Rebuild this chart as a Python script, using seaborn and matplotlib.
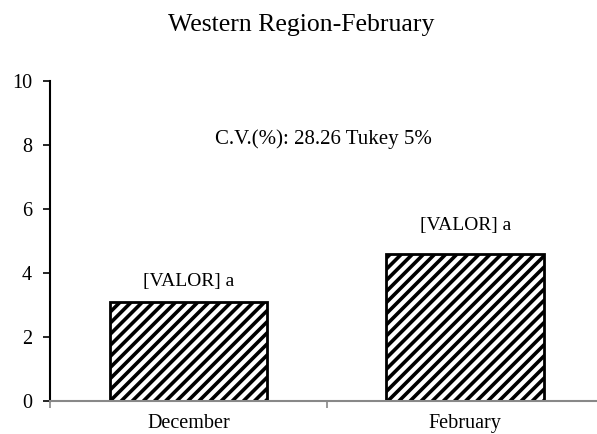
import matplotlib
matplotlib.use("Agg")
import matplotlib.pyplot as plt
import seaborn as sns
import pandas as pd

# Data
months = ["December", "February"]
values = [3.07, 4.57]
bar_labels = ["[VALOR] a", "[VALOR] a"]
title = "Western Region-February"
note = "C.V.(%): 28.26 Tukey 5%"
yticks = [0, 2, 4, 6, 8, 10]

sns.set_style("white")
plt.rcParams["font.family"] = ["Liberation Serif", "DejaVu Serif"]
plt.rcParams["hatch.linewidth"] = 2.6
plt.rcParams["text.color"] = "black"
plt.rcParams["xtick.labelcolor"] = "black"
plt.rcParams["ytick.labelcolor"] = "black"

df = pd.DataFrame({"month": months, "value": values})

fig = plt.figure(figsize=(5.97, 4.34), dpi=100)
ax = fig.add_axes([50 / 597, 33.5 / 434, 547 / 597, 320 / 434])

sns.barplot(data=df, x="month", y="value", color="white", edgecolor="black",
            linewidth=2, width=0.57, ax=ax)
for p in ax.patches:
    p.set_hatch("///")

# label offsets (points) above bar tops, as placed in the original
label_offsets = [15, 21]
for i, (v, lab) in enumerate(zip(values, bar_labels)):
    ax.annotate(lab, xy=(i, v), xytext=(0, label_offsets[i]), textcoords="offset points",
                ha="center", va="center", fontsize=14, color="black")

ax.text(0.5, 0.817, note, transform=ax.transAxes, ha="center", va="center",
        fontsize=15, color="black")

ax.set_xlim(-0.5, 1.476)
ax.set_ylim(0, 10)
ax.set_yticks(yticks)
ax.set_xlabel("")
ax.set_ylabel("")
fig.text(301 / 597, 1 - 25 / 434, title, ha="center", va="center",
         fontsize=18.5, color="black")

for s in ["top", "right"]:
    ax.spines[s].set_visible(False)
ax.spines["left"].set_color("black")
ax.spines["left"].set_linewidth(1.5)
ax.spines["bottom"].set_color("#888888")
ax.spines["bottom"].set_linewidth(1.5)

ax.tick_params(axis="y", which="major", left=True, length=5, width=1.2, color="black",
               labelcolor="black", labelsize=14.5, pad=8)
ax.tick_params(axis="x", which="major", bottom=False, length=0, labelcolor="black",
               labelsize=14.5, pad=10)
ax.set_xticks([-0.5, 0.5], minor=True)
ax.tick_params(axis="x", which="minor", bottom=True, length=5, width=1.2, color="#888888")

fig.savefig("out.png", dpi=100)
